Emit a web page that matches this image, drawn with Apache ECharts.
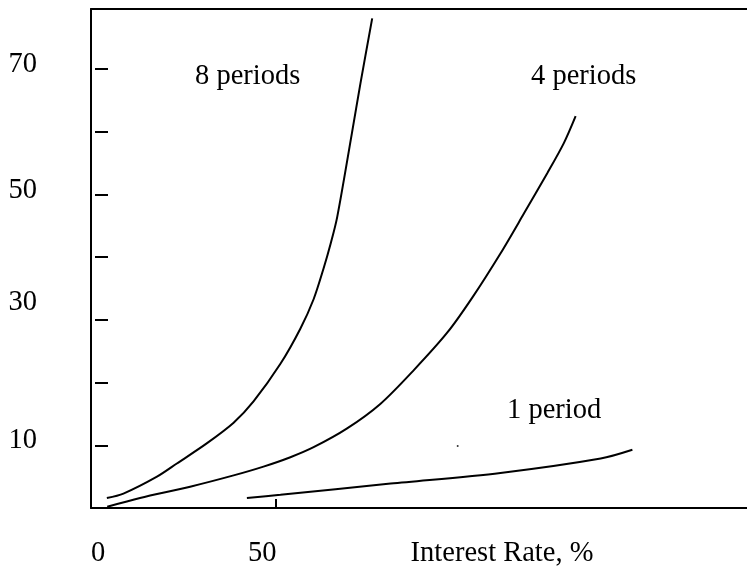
<!DOCTYPE html>
<html>
<head>
<meta charset="utf-8">
<script src="https://cdn.jsdelivr.net/npm/echarts@6/dist/echarts.min.js"></script>
<style>
html,body{margin:0;padding:0;background:#fff;}
#chart{width:747px;height:566px;}
</style>
</head>
<body>
<div id="chart"></div>
<script>
// ---- data ----
const xTickLabels = [0, 50];
const xTickMarks = [50];
const yTickLabels = [10, 30, 50, 70];
const yTickMarks = [10, 20, 30, 40, 50, 60, 70];

const periods8X = [4.3, 8.8, 17.9, 23.3, 31.4, 38.7, 44.1, 51.4, 56.8, 60.4, 63.1, 65.0, 66.8, 70.8, 73.1, 76.3];
const periods8Y = [1.6, 2.3, 5.0, 7.1, 10.3, 13.6, 17.0, 23.0, 28.6, 33.3, 38.2, 42.1, 46.4, 59.8, 67.7, 78.1];

const periods4X = [4.4, 13.3, 26.9, 38.7, 46.8, 54.1, 60.4, 69.5, 78.5, 87.6, 96.7, 103.5, 111.1, 117.5, 123.8, 128.3, 131.5];
const periods4Y = [0.2, 1.6, 3.4, 5.2, 6.6, 8.1, 9.7, 12.7, 16.6, 22.0, 28.0, 33.6, 40.6, 47.0, 53.4, 58.2, 62.5];

const period1X = [42.3, 51.4, 81.3, 111.1, 138.3, 146.9];
const period1Y = [1.6, 2.1, 3.9, 5.6, 7.9, 9.3];

const strayDotX = [99.5];
const strayDotY = [9.9];

const seriesNames = ['8 periods', '4 periods', '1 period'];
const axisTitle = 'Interest Rate, %';

// ---- chart ----
const zip = (xs, ys) => xs.map((x, i) => [x, ys[i]]);
const FONT = '"Liberation Serif", "Times New Roman", serif';
const FS = 28.5;
const txt = { fontFamily: FONT, fontSize: FS, color: '#000' };

const chart = echarts.init(document.getElementById('chart'), null, { renderer: 'canvas' });

const yRich = {};
yTickLabels.forEach((v) => {
  const pad = { 10: 10, 30: 34, 50: 8, 70: 10 }[v] || 10;
  yRich['y' + v] = Object.assign({ padding: [0, 0, pad, 0] }, txt);
});

const lineStyle = { color: '#000', width: 2 };

chart.setOption({
  animation: false,
  backgroundColor: '#fff',
  grid: { left: 91, right: 0, top: 9, bottom: 58, containLabel: false, outerBoundsMode: 'none' },
  xAxis: [
    {
      type: 'value', min: 0, max: 178, position: 'bottom',
      axisLine: { show: true, onZero: false, lineStyle: { color: '#000', width: 2 } },
      axisTick: { show: true, inside: true, length: 9, customValues: xTickMarks, lineStyle: { color: '#000', width: 2 } },
      axisLabel: {
        show: true, margin: 31, customValues: xTickLabels,
        formatter: (v) => (v === 0 ? '{a|' + v + '}' : '{b|' + v + '}'),
        rich: {
          a: Object.assign({ padding: [0, 0, 0, 14] }, txt),
          b: Object.assign({ padding: [0, 26, 0, 0] }, txt)
        }
      },
      splitLine: { show: false },
      name: axisTitle, nameLocation: 'middle', nameGap: 31, nameMoveOverlap: false,
      nameTextStyle: Object.assign({ padding: [0, 0, 0, 166] }, txt)
    },
    {
      type: 'value', min: 0, max: 178, position: 'top',
      axisLine: { show: true, onZero: false, lineStyle: { color: '#000', width: 2 } },
      axisTick: { show: false }, axisLabel: { show: false }, splitLine: { show: false }
    }
  ],
  yAxis: [
    {
      type: 'value', min: 0, max: 79.6, position: 'left',
      axisLine: { show: true, onZero: false, lineStyle: { color: '#000', width: 2 } },
      axisTick: { show: false },
      axisLabel: {
        show: true, margin: 54, customValues: yTickLabels,
        formatter: (v) => '{y' + v + '|' + v + '}',
        rich: yRich
      },
      splitLine: { show: false }
    },
    {
      type: 'value', min: 0, max: 79.6, position: 'left', offset: -4,
      axisLine: { show: false },
      axisTick: { show: true, inside: true, length: 13, customValues: yTickMarks, lineStyle: { color: '#000', width: 2 } },
      axisLabel: { show: false },
      splitLine: { show: false }
    }
  ],
  series: [
    { name: seriesNames[0], type: 'line', smooth: 0.3, showSymbol: false, data: zip(periods8X, periods8Y), lineStyle },
    { name: seriesNames[1], type: 'line', smooth: 0.3, showSymbol: false, data: zip(periods4X, periods4Y), lineStyle },
    { name: seriesNames[2], type: 'line', smooth: 0.3, showSymbol: false, data: zip(period1X, period1Y), lineStyle },
    { type: 'scatter', symbolSize: 2, itemStyle: { color: '#000' }, data: zip(strayDotX, strayDotY), silent: true }
  ],
  graphic: [
    { type: 'text', left: 195, top: 62, style: { text: seriesNames[0], font: FS + 'px ' + FONT, fill: '#000' } },
    { type: 'text', left: 531, top: 62, style: { text: seriesNames[1], font: FS + 'px ' + FONT, fill: '#000' } },
    { type: 'text', left: 507, top: 396, style: { text: seriesNames[2], font: FS + 'px ' + FONT, fill: '#000' } }
  ]
});
</script>
</body>
</html>
